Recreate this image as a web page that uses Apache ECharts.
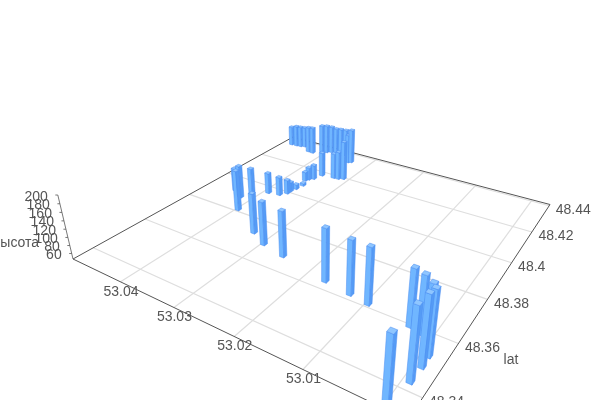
<!DOCTYPE html>
<html><head><meta charset="utf-8"><style>html,body{margin:0;background:#fff}#c{width:600px;height:400px}</style>
<script src="https://cdn.jsdelivr.net/npm/echarts@6/dist/echarts.min.js"></script></head>
<body><div id="c"></div><script>
var lngs=[53.0421,53.0396,53.0444,53.0413,53.0329,53.0296,53.0253,53.0169,53.0126,53.0096,53.0032,53.0016,53.0000,52.9991,52.9990,52.9991,52.9992,53.0391,53.0371,53.0363,53.0363,53.0360,53.0357,53.0365,53.0362,53.0356,53.0480,53.0469,53.0460,53.0452,53.0432,53.0422,53.0408,53.0400,53.0392,53.0383,53.0373,53.0361,53.0351,53.0328,53.0319,53.0311,53.0341,53.0336];
var lats=[48.3883,48.3811,48.3912,48.3924,48.3727,48.3691,48.3671,48.3636,48.3623,48.3613,48.3594,48.3584,48.3555,48.3523,48.3483,48.3428,48.3317,48.3961,48.3970,48.3994,48.4013,48.4038,48.4072,48.4109,48.4123,48.4137,48.4348,48.4350,48.4353,48.4360,48.4328,48.4326,48.4352,48.4361,48.4372,48.4377,48.4379,48.4376,48.4177,48.4184,48.4186,48.4196,48.4327,48.4334];
var heights=[133,152,109,117,148,155,160,174,175,179,177,177,182,192,202,207,212,102,96,84,72,59,53,71,81,86,102,107,107,106,121,123,128,128,125,121,122,124,113,117,124,153,128,143];
var lngTicks=[53.04,53.03,53.02,53.01,53.0], latTicks=[48.34,48.36,48.38,48.4,48.42,48.44], heightTicks=[60,80,100,120,140,160,180,200];
var lngRange=[52.997,53.05], latRange=[48.333,48.441], zRange=[46,200];
// camera: floor corners on screen, vertical vanishing point, perspective at the top of the height axis
var A=[73,259],D=[408,420],C=[550,204.5],B=[293,137],V=[320,1300],kTop=-0.0579;
var dx1=D[0]-C[0],dx2=B[0]-C[0],sx=A[0]-D[0]+C[0]-B[0],dy1=D[1]-C[1],dy2=B[1]-C[1],sy=A[1]-D[1]+C[1]-B[1];
var den=dx1*dy2-dx2*dy1,g=(sx*dy2-dx2*sy)/den,h=(dx1*sy-sx*dy1)/den;
var a=D[0]-A[0]+g*D[0],b=B[0]-A[0]+h*B[0],c=A[0],d=D[1]-A[1]+g*D[1],e=B[1]-A[1]+h*B[1],f=A[1];
function proj(api,lng,lat,z){var q=api.coord([lng,lat]),u=q[0]/600,v=1-q[1]/400,k=kTop*(z-zRange[0])/(zRange[1]-zRange[0]),w=g*u+h*v+1;
 return [(a*u+b*v+c+k*V[0])/(w+k),(d*u+e*v+f+k*V[1])/(w+k)];}
var dl=0.007*(lngRange[1]-lngRange[0]),dv=0.007*(latRange[1]-latRange[0]);
function sortKey(i){return (lngRange[1]-lngs[i])/(lngRange[1]-lngRange[0])-(lats[i]-latRange[0])/(latRange[1]-latRange[0]);}
var order=lngs.map(function(_,i){return i;}).sort(function(x,y){return sortKey(x)-sortKey(y);});
var barData=order.map(function(i){return [lngs[i],lats[i],heights[i]];});
function poly(pts,fill){return {type:'polygon',shape:{points:pts},style:{fill:fill,stroke:'#4a8cf0',lineWidth:0.5,lineJoin:'round'}};}
function renderBar(p,api){var lng=api.value(0),lat=api.value(1),z=api.value(2),z0=zRange[0];
 var l0=lng+dl,l1=lng-dl,a0=lat-dv,a1=lat+dv;
 return {type:'group',children:[
  poly([proj(api,l0,a0,z0),proj(api,l1,a0,z0),proj(api,l1,a0,z),proj(api,l0,a0,z)],'#70b6ff'),
  poly([proj(api,l1,a0,z0),proj(api,l1,a1,z0),proj(api,l1,a1,z),proj(api,l1,a0,z)],'#559bf5'),
  poly([proj(api,l0,a0,z),proj(api,l1,a0,z),proj(api,l1,a1,z),proj(api,l0,a1,z)],'#8fc6ff')]};}
function line(p,q,col,w){return {type:'line',shape:{x1:p[0],y1:p[1],x2:q[0],y2:q[1]},style:{stroke:col,lineWidth:w}};}
function label(x,y,t,al){return {type:'text',x:x,y:y,style:{text:t,font:'14px "Liberation Sans"',fill:'#555',align:al,verticalAlign:'middle'}};}
var chart=echarts.init(document.getElementById('c'));
chart.setOption({animation:false,
 graphic:[
  {type:'text',x:16,y:243,style:{text:'высота',font:'14px "Liberation Sans"',fill:'#555',align:'center',verticalAlign:'middle'}},
  {type:'text',x:511,y:360,style:{text:'lat',font:'14px "Liberation Sans"',fill:'#555',align:'center',verticalAlign:'middle'}}],
 grid:{left:0,top:0,width:600,height:400},
 xAxis:{type:'value',inverse:true,show:false,min:lngRange[0],max:lngRange[1]},
 yAxis:{type:'value',show:false,min:latRange[0],max:latRange[1]},
 series:[
 {type:'custom',silent:true,clip:false,z:1,data:lngTicks.map(function(t){return [t];}),renderItem:function(p,api){var t=api.value(0);
   var q0=proj(api,t,latRange[0],zRange[0]),q1=proj(api,t,latRange[1],zRange[0]);
   return {type:'group',children:[line(q0,q1,'#dedede',1.2),label(q0[0]+0.5,q0[1]+10,t.toFixed(2),'center')]};},encode:{x:0,y:-1}},
 {type:'custom',silent:true,clip:false,z:1,data:latTicks.map(function(t){return [t];}),renderItem:function(p,api){var t=api.value(0);
   var q0=proj(api,lngRange[1],t,zRange[0]),q1=proj(api,lngRange[0],t,zRange[0]);
   return {type:'group',children:[line(q0,q1,'#dedede',1.2),label(q1[0]+6.5,q1[1]+4.5,String(t),'left')]};},encode:{y:0,x:-1}},
 {type:'custom',silent:true,clip:false,z:2,data:[[lngRange[0],latRange[0]]],renderItem:function(p,api){
   var L0=lngRange[0],L1=lngRange[1],a0=latRange[0],a1=latRange[1],z0=zRange[0];
   var pA=proj(api,L1,a0,z0),pD=proj(api,L0,a0,z0),pC=proj(api,L0,a1,z0),pB=proj(api,L1,a1,z0),pT=proj(api,L1,a0,zRange[1]);
   return {type:'group',children:[line(pA,pD,'#555',1),line(pD,pC,'#555',1),line(pC,pB,'#555',1),line(pB,pA,'#555',1),line(pA,pT,'#555',0.8)]};}},
 {type:'custom',silent:true,clip:false,z:2,data:heightTicks.map(function(t){return [t];}),renderItem:function(p,api){var t=api.value(0);
   var q=proj(api,lngRange[1],latRange[0],t);
   return {type:'group',children:[line([q[0]-2.5,q[1]],q,'#555',0.8),label(q[0]-10,q[1]+1.7,String(t),'right')]};},encode:{x:-1,y:-1}},
 {type:'custom',silent:true,clip:false,z:3,data:barData,renderItem:renderBar,encode:{x:0,y:1}}
 ]});
</script></body></html>
